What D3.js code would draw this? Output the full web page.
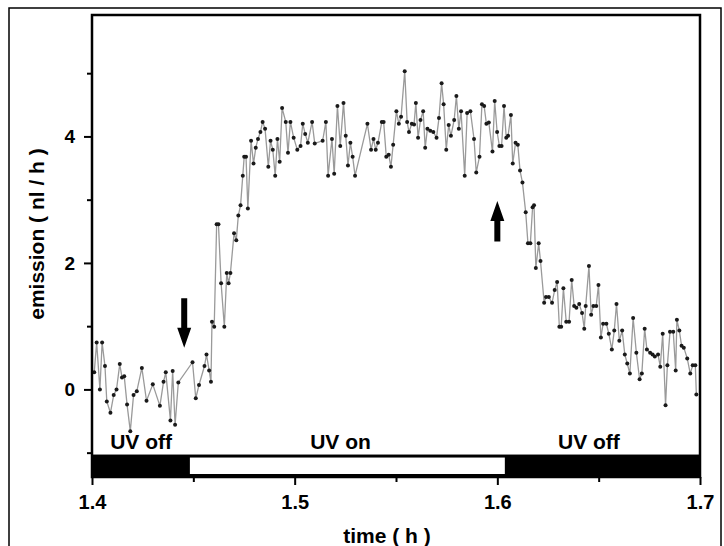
<!DOCTYPE html>
<html>
<head>
<meta charset="UTF-8">
<title>UV emission</title>
<style>
  body { margin: 0; background: #fff; }
  svg { display: block; font-family: "Liberation Sans", Arial, sans-serif; font-weight: bold; }
</style>
</head>
<body>
<svg></svg>
<script src="https://d3js.org/d3.v7.min.js"></script>
<script>

const times = [
  1.4011,1.4023,1.4039,1.4050,1.4064,1.4073,1.4091,1.4107,1.4121,1.4137,1.4148,1.4159,1.4173,1.4189,1.4205,1.4221,
  1.4246,1.4269,1.4300,1.4335,1.4353,1.4364,1.4387,1.4398,1.4410,1.4426,1.4496,1.4512,1.4528,1.4555,1.4565,1.4578,
  1.4587,1.4592,1.4603,1.4615,1.4624,1.4637,1.4653,1.4665,1.4674,1.4683,1.4701,1.4712,1.4722,1.4733,1.4744,1.4751,
  1.4760,1.4769,1.4785,1.4797,1.4808,1.4819,1.4831,1.4842,1.4854,1.4870,1.4881,1.4892,1.4904,1.4915,1.4926,1.4938,
  1.4956,1.4967,1.4979,1.4995,1.5013,1.5029,1.5040,1.5052,1.5065,1.5086,1.5099,1.5138,1.5154,1.5165,1.5184,1.5195,
  1.5211,1.5225,1.5241,1.5252,1.5263,1.5275,1.5286,1.5298,1.5359,1.5377,1.5389,1.5400,1.5411,1.5430,1.5439,1.5452,
  1.5464,1.5475,1.5486,1.5502,1.5514,1.5525,1.5543,1.5555,1.5564,1.5578,1.5589,1.5598,1.5609,1.5621,1.5634,1.5644,
  1.5655,1.5669,1.5684,1.5700,1.5712,1.5725,1.5735,1.5748,1.5760,1.5771,1.5787,1.5798,1.5810,1.5821,1.5839,1.5851,
  1.5867,1.5885,1.5896,1.5912,1.5924,1.5935,1.5946,1.5958,1.5976,1.5987,1.5999,1.6010,1.6021,1.6033,1.6044,1.6053,
  1.6067,1.6076,1.6090,1.6101,1.6112,1.6124,1.6140,1.6151,1.6163,1.6174,1.6181,1.6190,1.6204,1.6213,1.6231,1.6240,
  1.6254,1.6270,1.6283,1.6295,1.6306,1.6315,1.6326,1.6340,1.6354,1.6367,1.6379,1.6390,1.6404,1.6418,1.6429,1.6436,
  1.6452,1.6463,1.6474,1.6488,1.6499,1.6511,1.6522,1.6538,1.6550,1.6565,1.6577,1.6588,1.6602,1.6616,1.6629,1.6641,
  1.6654,1.6670,1.6686,1.6702,1.6713,1.6727,1.6738,1.6754,1.6766,1.6777,1.6793,1.6804,1.6816,1.6830,1.6839,1.6852,
  1.6868,1.6880,1.6886,1.6898,1.6909,1.6920,1.6937,1.6952,1.6964,1.6977,1.6982
];
const emission = [
  0.27,0.74,0.00,0.74,0.37,-0.19,-0.37,-0.09,0.00,0.40,0.19,0.21,-0.24,-0.66,-0.09,-0.03,
  0.34,-0.18,0.08,-0.26,0.12,0.27,-0.49,0.29,-0.56,0.11,0.43,-0.14,0.07,0.37,0.55,0.30,
  0.12,1.07,0.99,2.61,2.61,1.68,0.99,1.84,1.68,1.84,2.47,2.36,2.75,2.91,3.38,3.68,
  3.68,2.86,3.93,3.57,3.82,3.96,4.07,4.23,4.12,3.52,3.93,3.79,3.38,3.96,3.60,4.45,
  4.23,3.74,4.23,3.98,3.79,3.85,4.20,4.04,3.90,4.23,3.89,3.93,4.23,3.38,3.96,3.41,
  4.48,3.85,4.53,4.01,3.54,3.90,3.68,3.38,4.20,3.79,3.96,3.79,3.90,4.23,4.23,3.68,
  3.71,3.52,3.87,4.40,4.20,4.31,5.03,4.23,4.07,4.20,4.19,4.53,3.98,4.26,4.40,3.82,
  4.12,4.09,4.07,3.98,4.29,4.84,4.51,3.79,4.18,4.01,4.26,4.64,4.12,4.40,3.38,4.37,
  4.40,3.96,3.43,3.68,4.51,4.48,4.20,4.22,3.76,4.56,4.07,3.85,3.85,4.48,3.98,4.01,
  4.34,3.57,3.90,3.87,3.46,3.27,2.80,2.31,2.31,2.88,2.91,1.92,2.31,2.03,1.37,1.46,
  1.46,1.37,1.57,1.70,0.99,0.99,1.60,1.07,1.07,1.73,1.32,1.29,1.35,1.21,0.96,1.32,
  1.95,1.18,1.32,1.32,1.65,0.82,1.04,1.04,0.88,0.63,0.93,1.35,0.77,0.93,0.55,0.41,
  0.25,1.13,0.58,0.16,0.25,0.96,0.63,0.58,0.55,0.52,0.55,0.36,0.88,-0.25,0.38,0.91,
  0.91,0.30,1.10,0.93,0.69,0.66,0.49,0.25,0.38,0.38,-0.08
];

const majorX = [1.4, 1.5, 1.6, 1.7];
const minorX = [1.45, 1.55, 1.65];
const majorY = [0, 2, 4];
const minorY = [-1, 1, 3, 5];

// UV lamp state bar along the bottom
const phaseLabels = ["UV off", "UV on", "UV off"];
const phaseStart = [1.4, 1.4483, 1.6037];
const phaseEnd = [1.4483, 1.6037, 1.7];
const phaseOn = [false, true, false];
const labelAt = [1.4242, 1.5226, 1.6452];

// arrows: [time, tail value, head value]
const arrows = [[1.4455, 1.44, 0.66], [1.6, 2.34, 2.98]];

let width = 724, height = 546;
let svg = d3.select("svg").attr("width", width).attr("height", height);

let margin = {left: 92, right: 24, top: 15, bottom: 69};

let x = d3.scaleLinear().domain([1.4, 1.7]).range([margin.left, width - margin.right]);
let y = d3.scaleLinear().domain([-1.385, 5.92]).range([height - margin.bottom, margin.top]);

// outer frame
svg.append("rect")
  .attr("x", 9).attr("y", 8)
  .attr("width", 712).attr("height", 560)
  .attr("fill", "none").attr("stroke", "#000").attr("stroke-width", 1.5);

// state bar
let barTop = y(-1.03), barBot = y(-1.385);
svg.append("rect")
  .attr("x", x(1.4)).attr("y", barTop)
  .attr("width", x(1.7) - x(1.4)).attr("height", barBot - barTop)
  .attr("fill", "#000");
phaseStart.forEach((s, i) => {
  if (phaseOn[i]) {
    svg.append("rect")
      .attr("x", x(s)).attr("y", barTop + 3)
      .attr("width", x(phaseEnd[i]) - x(s)).attr("height", barBot - barTop - 6)
      .attr("fill", "#fff");
  }
  svg.append("text")
    .attr("x", x(labelAt[i])).attr("y", y(-0.95))
    .attr("text-anchor", "middle")
    .style("font-size", "21px")
    .text(phaseLabels[i]);
});

// data line and points
let line = d3.line().x((d, i) => x(times[i])).y(d => y(d));
svg.append("path")
  .datum(emission)
  .attr("d", line)
  .attr("fill", "none")
  .attr("stroke", "#9a9a9a")
  .attr("stroke-width", 1.3);

svg.append("g").selectAll("circle")
  .data(emission)
  .enter().append("circle")
    .attr("cx", (d, i) => x(times[i]))
    .attr("cy", d => y(d))
    .attr("r", 2)
    .attr("fill", "#1a1a1a");

// arrows
arrows.forEach(a => {
  let ax = x(a[0]), y0 = y(a[1]), y1 = y(a[2]);
  let dir = y1 > y0 ? 1 : -1;
  let headLen = 20, headW = 7, shaftW = 3;
  let yb = y1 - dir * headLen;
  svg.append("path")
    .attr("d", "M" + (ax - shaftW) + "," + y0 + "L" + (ax + shaftW) + "," + y0 +
      "L" + (ax + shaftW) + "," + yb + "L" + (ax + headW) + "," + yb +
      "L" + ax + "," + y1 + "L" + (ax - headW) + "," + yb +
      "L" + (ax - shaftW) + "," + yb + "Z")
    .attr("fill", "#000");
});

// axes
let xAxis = svg.append("g")
  .attr("transform", "translate(0," + y(-1.385) + ")")
  .call(d3.axisBottom(x).tickValues(majorX).tickSize(8).tickPadding(10).tickFormat(d3.format(".1f")));
svg.append("g")
  .attr("transform", "translate(0," + y(-1.385) + ")")
  .call(d3.axisBottom(x).tickValues(minorX).tickSize(5).tickFormat(""));

let yAxis = svg.append("g")
  .attr("transform", "translate(" + x(1.4) + ",0)")
  .call(d3.axisLeft(y).tickValues(majorY).tickSize(8).tickPadding(9).tickFormat(d3.format("d")));
svg.append("g")
  .attr("transform", "translate(" + x(1.4) + ",0)")
  .call(d3.axisLeft(y).tickValues(minorY).tickSize(5).tickFormat(""));

svg.selectAll(".domain").remove();
svg.selectAll(".tick line").attr("stroke", "#000").attr("stroke-width", 2);
xAxis.selectAll("text").style("font-size", "20px").style("font-family", "Liberation Sans, Arial, sans-serif").attr("fill", "#000");
yAxis.selectAll("text").style("font-size", "19px").style("font-family", "Liberation Sans, Arial, sans-serif").attr("fill", "#000");

// plot frame
svg.append("rect")
  .attr("x", x(1.4)).attr("y", y(5.92))
  .attr("width", x(1.7) - x(1.4)).attr("height", y(-1.385) - y(5.92))
  .attr("fill", "none").attr("stroke", "#000").attr("stroke-width", 2.5);

// axis titles
svg.append("text")
  .attr("x", (x(1.4) + x(1.7)) / 2 - 9).attr("y", 543)
  .attr("text-anchor", "middle")
  .style("font-size", "21px")
  .text("time ( h )");

svg.append("text")
  .attr("transform", "translate(44," + 234 + ") rotate(-90)")
  .attr("text-anchor", "middle")
  .style("font-size", "21px")
  .text("emission ( nl / h )");

</script>
</body>
</html>
